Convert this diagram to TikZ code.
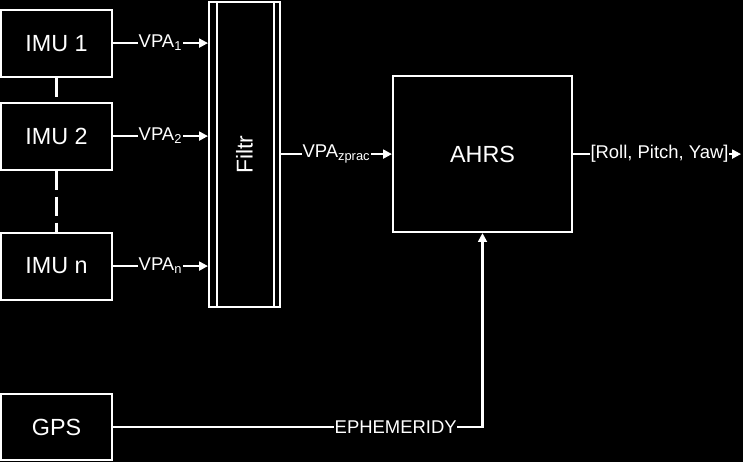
\documentclass[tikz,border=0pt]{standalone}
\usepackage{fontspec}
\setmainfont{Liberation Sans}
\usetikzlibrary{arrows.meta}

\tikzset{
	blok/.style={draw=white, line width=1.2pt, fill=black, text=white, inner sep=0pt, font=\fontsize{13.3}{15}\selectfont},
	sipka/.style={draw=white, line width=1.2pt, -{Triangle[length=5pt,width=5pt]}},
	spoj/.style={draw=white, line width=1.2pt, dash pattern=on 10.8pt off 4pt},
	popis/.style={fill=black, text=white, inner sep=0.4pt, font=\fontsize{10.5}{12}\selectfont}
}

\begin{document}
\begin{tikzpicture}[x=0.02cm, y=-0.02cm]
	\fill[black] (0,0) rectangle (743,462);
	
	% filtr s dvojitym okrajem
	\node[blok, minimum width=1.42cm, minimum height=6.1cm] (filtr) at (244.5,154.5) {};
	\node[text=white, rotate=90, font=\fontsize{13}{15}\selectfont] (filtrtext) at (filtr.center) {Filtr};
	\draw[white, line width=1.2pt] ([xshift=0.18cm]filtr.north west) -- ([xshift=0.18cm]filtr.south west);
	\draw[white, line width=1.2pt] ([xshift=-0.14cm]filtr.north east) -- ([xshift=-0.14cm]filtr.south east);
	
	% jednotky IMU a jejich vystupy
	\foreach \imu/\y/\idx in {imua/43/1, imub/136/2, imun/266/n} {
		\node[blok, minimum width=2.22cm, minimum height=1.34cm] (\imu) at (56.5,\y) {IMU \idx};
		\draw[sipka] (\imu.east) -- node[popis] {VPA\textsubscript{\idx}} (\imu.east -| filtr.west);
	}
	\draw[spoj] (imua) -- (imub);
	\draw[spoj] (imub) -- (imun);
	
	% AHRS
	\node[blok, minimum width=3.58cm, minimum height=3.12cm] (ahrs) at (482.5,154) {AHRS};
	\draw[sipka] (filtr.east |- ahrs.west) -- node[popis] {VPA\textsubscript{zprac}} (ahrs.west);
	\coordinate (vystup) at (741,154);
	\draw[sipka] (ahrs.east) -- node[popis, pos=0.515] {[Roll, Pitch, Yaw]} (vystup);
	
	% GPS
	\node[blok, minimum width=2.22cm, minimum height=1.32cm] (gps) at (56.5,427) {GPS};
	\coordinate (ohyb) at (gps.east -| ahrs.south);
	\draw[sipka] (gps.east) -- node[popis, pos=0.765] {EPHEMERIDY} (ohyb) -- (ahrs.south);
\end{tikzpicture}
\end{document}
